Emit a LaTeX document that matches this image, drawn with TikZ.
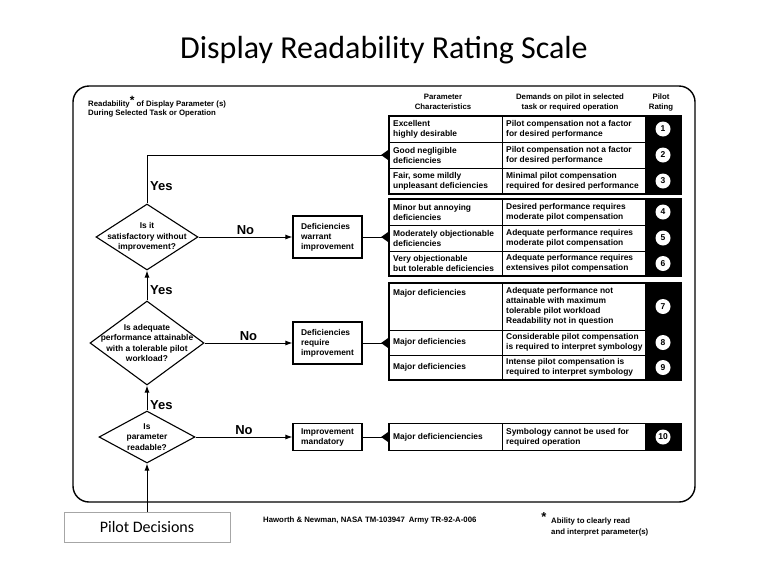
\documentclass[tikz,border=0pt]{standalone}
\usepackage{fontspec}
\setmainfont{Liberation Sans}
\newfontfamily\titlefont{Carlito}
\usetikzlibrary{shapes.geometric,arrows.meta}
\newcommand\pointer[1]{\fill ([xshift=-7pt]#1) -- ([yshift=5pt]#1) -- ([yshift=-5pt]#1) -- cycle;}
\begin{document}
\begin{tikzpicture}[x=1pt,y=-1pt,
  scan/.style={font=\fontsize{8.4}{10}\selectfont\bfseries, inner sep=0pt, align=left},
  cell/.style={scan, anchor=west},
  hdr/.style={font=\fontsize{7.8}{10}\selectfont\bfseries, inner sep=0pt, align=center},
  grp/.style={draw, line width=1.8pt, inner sep=0pt, minimum width=292pt},
  dia/.style={draw, shape=diamond, line width=1.1pt, inner sep=0pt},
  dtext/.style={font=\fontsize{8.4}{10.5}\selectfont\bfseries, align=center, inner sep=0pt},
  midbox/.style={draw, line width=1.1pt, inner sep=0pt, minimum width=69pt, align=left, font=\fontsize{8.4}{10}\selectfont\bfseries},
  yn/.style={font=\fontsize{13}{15}\selectfont\bfseries, inner sep=0pt},
  rate/.style={circle, fill=white, inner sep=0pt, minimum size=15pt, font=\fontsize{8.5}{9}\selectfont\bfseries},
  flow/.style={line width=1pt, -{Latex[length=7pt,width=5pt]}},
  link/.style={line width=1pt},
  rowline/.style={line width=0.8pt},
]
\useasboundingbox (0,0) rectangle (768,576);
% title
\node[font=\titlefont\fontsize{32}{36}\selectfont, inner sep=0pt] (title) at (384,50) {Display Readability Rating Scale};
% outer frame
\draw[line width=1.4pt, rounded corners=16pt] (73,86) rectangle (695,502);
% header
\node[scan, anchor=west, font=\fontsize{7.8}{10}\selectfont\bfseries] (hd1) at (88,102) {Readability\raisebox{2.5pt}{\fontsize{12}{12}\selectfont *} of Display Parameter (s)};
\node[scan, anchor=west, font=\fontsize{7.8}{10}\selectfont\bfseries] (hd2) at (88,113) {During Selected Task or Operation};
\node[hdr] (h1) at (443,102) {Parameter\\Characteristics};
\node[hdr] (h2) at (570,102) {Demands on pilot in selected\\task or required operation};
\node[hdr] (h3) at (661,102) {Pilot\\Rating};

% ---- group 1 ----
\fill (645,116) rectangle (681,194);
\draw[rowline] (389,142) -- (645,142) (389,168) -- (645,168) (502,116) -- (502,194);
\node[grp, minimum height=78pt] (g1) at (535,155) {};
\node[cell] (c1) at (393,129) {Excellent\\highly desirable};
\node[cell] (e1) at (506,129) {Pilot compensation not a factor\\for desired performance};
\node[rate] (r1) at (663,129) {1};
\node[cell] (c2) at (393,155) {Good negligible\\deficiencies};
\node[cell] (e2) at (506,155) {Pilot compensation not a factor\\for desired performance};
\node[rate] (r2) at (663,155) {2};
\node[cell] (c3) at (393,181) {Fair, some mildly\\unpleasant deficiencies};
\node[cell] (e3) at (506,181) {Minimal pilot compensation\\required for desired performance};
\node[rate] (r3) at (663,181) {3};

% ---- group 2 ----
\fill (645,199) rectangle (681,276);
\draw[rowline] (389,225) -- (645,225) (389,251) -- (645,251) (502,199) -- (502,276);
\node[grp, minimum height=77pt] (g2) at (535,237.5) {};
\node[cell] (c4) at (393,212) {Minor but annoying\\deficiencies};
\node[cell] (e4) at (506,212) {Desired performance requires\\moderate pilot compensation};
\node[rate] (r4) at (663,212) {4};
\node[cell] (c5) at (393,238) {Moderately objectionable\\deficiencies};
\node[cell] (e5) at (506,238) {Adequate performance requires\\moderate pilot compensation};
\node[rate] (r5) at (663,238) {5};
\node[cell] (c6) at (393,263.5) {Very objectionable\\but tolerable deficiencies};
\node[cell] (e6) at (506,263.5) {Adequate performance requires\\extensives pilot compensation};
\node[rate] (r6) at (663,263.5) {6};

% ---- group 3 ----
\fill (645,283) rectangle (681,380);
\draw[rowline] (389,330) -- (645,330) (389,355) -- (645,355) (502,283) -- (502,380);
\node[grp, minimum height=97pt] (g3) at (535,331.5) {};
\node[cell] (c7) at (393,293) {Major deficiencies};
\node[cell] (e7) at (506,306.5) {Adequate performance not\\attainable with maximum\\tolerable pilot workload\\Readability not in question};
\node[rate] (r7) at (663,306.5) {7};
\node[cell] (c8) at (393,342.5) {Major deficiencies};
\node[cell] (e8) at (506,342.5) {Considerable pilot compensation\\is required to interpret symbology};
\node[rate] (r8) at (663,342.5) {8};
\node[cell] (c9) at (393,367.5) {Major deficiencies};
\node[cell] (e9) at (506,367.5) {Intense pilot compensation is\\required to interpret symbology};
\node[rate] (r9) at (663,367.5) {9};

% ---- group 4 ----
\fill (645,423.5) rectangle (681,450.5);
\draw[rowline] (502,423.5) -- (502,450.5);
\node[grp, minimum height=27pt] (g4) at (535,437) {};
\node[cell] (c10) at (393,437) {Major deficienciencies};
\node[cell] (e10) at (506,437) {Symbology cannot be used for\\required operation};
\node[rate] (r10) at (663,437) {10};

% ---- decisions ----
\node[dia, minimum width=102pt, minimum height=66pt] (d1) at (147,237) {};
\node[dtext] (d1t) at (d1) {Is it\\satisfactory without\\improvement?};
\node[dia, minimum width=114pt, minimum height=84pt] (d2) at (147,343) {};
\node[dtext] (d2t) at (d2) {Is adequate\\performance attainable\\with a tolerable pilot\\workload?};
\node[dia, minimum width=96pt, minimum height=52pt] (d3) at (147,437) {};
\node[dtext] (d3t) at (d3) {Is\\parameter\\readable?};

\node[midbox, minimum height=42pt] (m1) at (327.5,237) {Deficiencies\\warrant\\improvement};
\node[midbox, minimum height=42pt] (m2) at (327.5,343) {Deficiencies\\require\\improvement};
\node[midbox, minimum height=27pt] (m3) at (327.5,437) {Improvement\\mandatory};

\node[draw=gray!70, line width=0.6pt, minimum width=166pt, minimum height=30pt, inner sep=0pt,
      font=\titlefont\fontsize{16}{18}\selectfont] (pd) at (147,527) {Pilot Decisions};

% ---- connectors ----
\draw[flow] (pd.north) -- (d3.south);
\draw[flow] (d3.north) -- (d2.south);
\draw[flow] (d2.north) -- (d1.south);
\draw[link] (d1.north) |- (g1.west);
\pointer{g1.west}
\node[yn, anchor=west] (yes1) at (150,186) {Yes};
\node[yn, anchor=west] (yes2) at (150,290) {Yes};
\node[yn, anchor=west] (yes3) at (150,405) {Yes};

\draw[flow] (d1.east) -- node[yn, above=2pt] (no1) {No} (m1.west);
\draw[flow] (d2.east) -- node[yn, above=2pt] (no2) {No} (m2.west);
\draw[flow] (d3.east) -- node[yn, above=2pt] (no3) {No} (m3.west);

\coordinate (p2) at (m1.east -| g2.west);
\coordinate (p3) at (m2.east -| g3.west);
\coordinate (p4) at (m3.east -| g4.west);
\draw[link] (m1.east) -- (p2);
\draw[link] (m2.east) -- (p3);
\draw[link] (m3.east) -- (p4);
\pointer{p2}
\pointer{p3}
\pointer{p4}

% ---- footer ----
\node[scan, anchor=west, font=\fontsize{7.8}{10}\selectfont\bfseries] (src) at (263,520) {Haworth \& Newman, NASA TM-103947\enspace Army TR-92-A-006};
\node[inner sep=0pt, font=\fontsize{13}{13}\selectfont\bfseries] (fstar) at (544,517) {*};
\node[scan, anchor=west, font=\fontsize{7.8}{10.5}\selectfont\bfseries] (fnote) at (551,527) {Ability to clearly read\\and interpret parameter(s)};
\end{tikzpicture}
\end{document}
